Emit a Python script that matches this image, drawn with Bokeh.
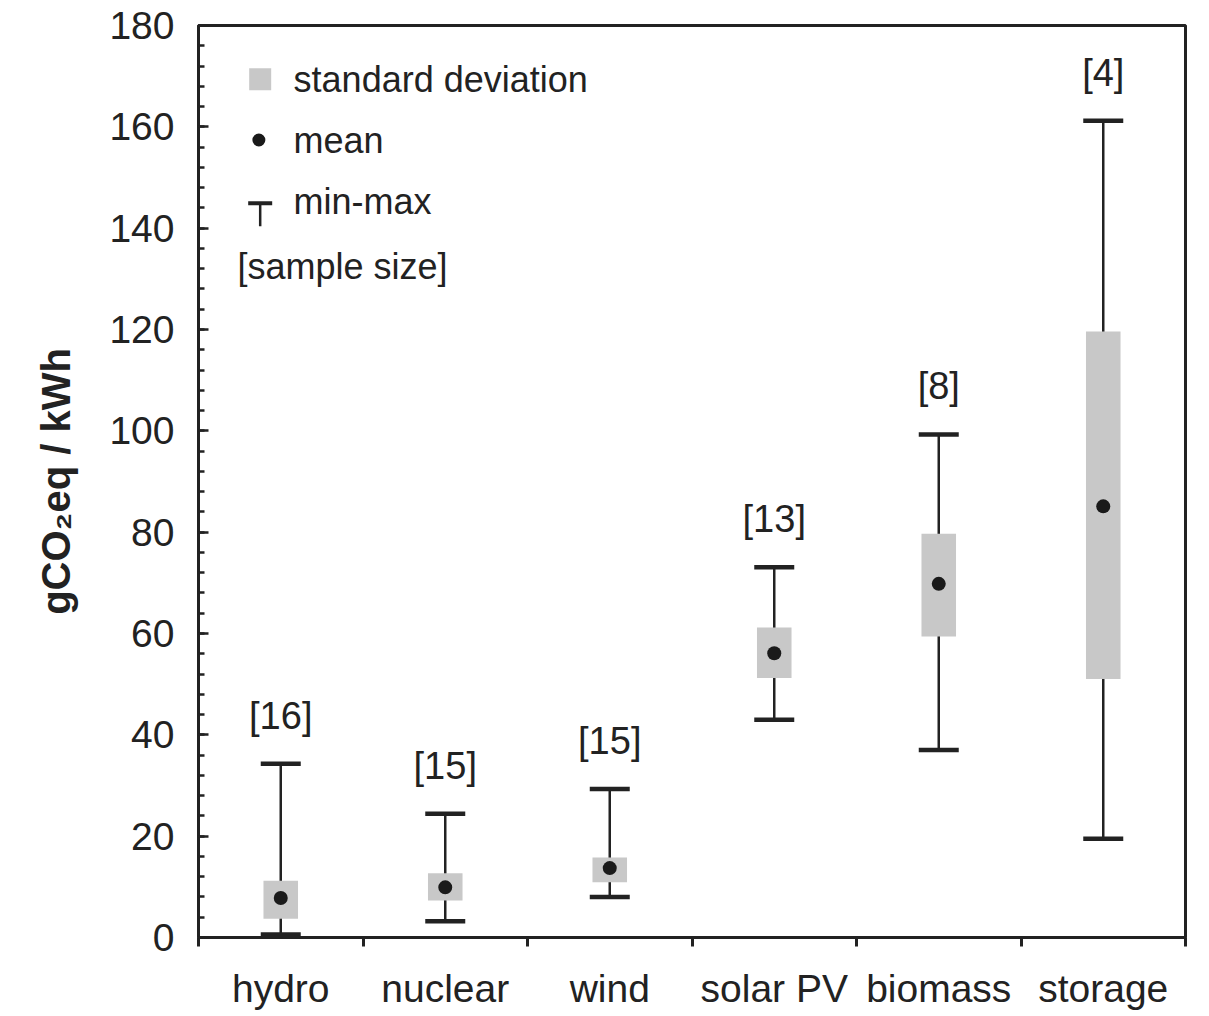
from bokeh.plotting import figure
from bokeh.models import Range1d, FixedTicker, CustomJSTickFormatter, ColumnDataSource
from bokeh.core.properties import value
from bokeh.embed import file_html
from bokeh.resources import INLINE

# ---- data ----
categories = ["hydro", "nuclear", "wind", "solar PV", "biomass", "storage"]
min_vals = [0.6, 3.2, 8.0, 43.0, 37.0, 19.5]
max_vals = [34.3, 24.4, 29.3, 73.1, 99.3, 161.2]
mean_vals = [7.8, 9.9, 13.7, 56.1, 69.8, 85.1]
sd_low = [3.7, 7.3, 10.9, 51.2, 59.4, 51.0]
sd_high = [11.2, 12.7, 15.8, 61.2, 79.7, 119.6]
sample_size = [16, 15, 15, 13, 8, 4]
y_ticks = list(range(0, 181, 20))
y_minor_ticks = list(range(0, 181, 4))

# legend texts
legend_labels = ["standard deviation", "mean", "min-max", "[sample size]"]

# ---- style ----
FONT = "Liberation Sans"
INK = "#222222"
GRAY = "#c8c8c8"

xs = [i + 0.5 for i in range(len(categories))]
src = ColumnDataSource(dict(
    x=xs, lo=min_vals, hi=max_vals, mean=mean_vals,
    sdl=sd_low, sdh=sd_high, n=[f"[{n}]" for n in sample_size],
))

p = figure(width=1200, height=1014,
           x_range=Range1d(0, len(categories)), y_range=Range1d(0, 180),
           output_backend="svg", toolbar_location=None,
           min_border_left=198, min_border_right=15,
           min_border_top=25, min_border_bottom=77)
p.xgrid.visible = False
p.ygrid.visible = False
p.outline_line_color = INK
p.outline_line_width = 3
p.background_fill_color = "white"
p.border_fill_color = "white"

# stems
p.segment(x0="x", y0="lo", x1="x", y1="hi", source=src, line_width=2.5, line_color=INK)
# std dev boxes
p.vbar(x="x", bottom="sdl", top="sdh", width=0.21, source=src,
       fill_color=GRAY, line_color=None)
# caps
p.scatter(x="x", y="hi", source=src, marker="dash", size=40, line_width=4.5, line_color=INK)
p.scatter(x="x", y="lo", source=src, marker="dash", size=40, line_width=4.5, line_color=INK)
# means
p.scatter(x="x", y="mean", source=src, marker="circle", size=14,
          fill_color="#1a1a1a", line_color=None)
# sample size labels
p.text(x="x", y="hi", text="n", source=src, text_align="center", text_baseline="middle",
       y_offset=-48, text_font=value(FONT), text_font_size="38px", text_color=INK)

# ---- custom legend (upper left) ----
lx_mark = 0.375
lx_text = 0.578
rows = [169.4, 157.4, 145.2, 132.4]
p.scatter(x=[lx_mark], y=[rows[0]], marker="square", size=22, fill_color=GRAY, line_color=None)
p.scatter(x=[lx_mark - 0.008], y=[rows[1]], marker="circle", size=13, fill_color="#1a1a1a", line_color=None)
p.segment(x0=[lx_mark], y0=[rows[2] - 0.3], x1=[lx_mark], y1=[rows[2] - 4.8], line_width=2.5, line_color=INK)
p.scatter(x=[lx_mark], y=[rows[2] - 0.3], marker="dash", size=24, line_width=4, line_color=INK)
p.text(x=[lx_text] * 3, y=rows[:3], text=legend_labels[:3], text_align="left", text_baseline="middle",
       text_font=value(FONT), text_font_size="36px", text_color=INK)
p.text(x=[0.237], y=[rows[3]], text=[legend_labels[3]], text_align="left", text_baseline="middle",
       text_font=value(FONT), text_font_size="36px", text_color=INK)

# ---- axes ----
xa = p.xaxis[0]
xa.ticker = FixedTicker(ticks=xs, minor_ticks=list(range(len(categories) + 1)))
xa.formatter = CustomJSTickFormatter(args=dict(labels=categories),
                                     code="return labels[Math.floor(tick)];")
xa.major_tick_in = 0
xa.major_tick_out = 0
xa.minor_tick_in = 0
xa.minor_tick_out = 9
xa.minor_tick_line_width = 3
xa.minor_tick_line_color = INK
xa.axis_line_width = 3
xa.axis_line_color = INK
xa.major_label_standoff = 20
xa.major_label_text_font = FONT
xa.major_label_text_font_size = "39px"
xa.major_label_text_color = INK

ya = p.yaxis[0]
ya.ticker = FixedTicker(ticks=y_ticks, minor_ticks=y_minor_ticks)
ya.major_tick_in = 10
ya.major_tick_out = 0
ya.minor_tick_in = 6
ya.minor_tick_out = 0
ya.major_tick_line_width = 2.5
ya.minor_tick_line_width = 2.5
ya.major_tick_line_color = INK
ya.minor_tick_line_color = INK
ya.axis_line_width = 3
ya.axis_line_color = INK
ya.major_label_standoff = 24
ya.major_label_text_font = FONT
ya.major_label_text_font_size = "39px"
ya.major_label_text_color = INK
ya.axis_label = "gCO₂eq / kWh"
ya.axis_label_text_font = FONT
ya.axis_label_text_font_style = "bold"
ya.axis_label_text_font_size = "40px"
ya.axis_label_text_color = INK
ya.axis_label_standoff = 28

open("out.html", "w").write(file_html(p, INLINE))
